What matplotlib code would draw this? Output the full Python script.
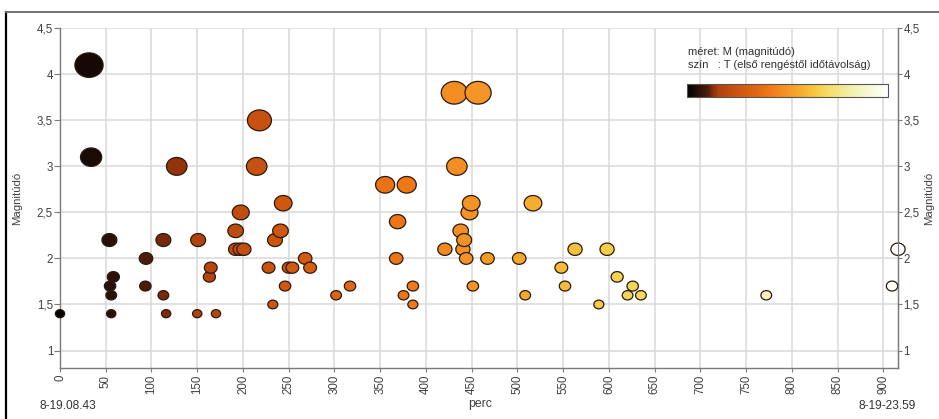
import numpy as np
import matplotlib
matplotlib.use('Agg')
import matplotlib.pyplot as plt
import matplotlib.cm as cm
from matplotlib.colors import LinearSegmentedColormap, Normalize
from matplotlib.path import Path
from matplotlib.ticker import FuncFormatter, FixedLocator
from matplotlib.lines import Line2D

plt.rcParams['font.family'] = ['Liberation Sans', 'DejaVu Sans']

# ---- data (minutes after first quake, magnitude) ----
minutes = [0, 31.7, 34, 54, 54.7, 56, 56, 58.3, 93.3, 94, 113, 113, 116, 127.6,
           150, 151, 163.3, 164.8, 170.5, 192, 192, 197, 197.6, 201, 215, 218,
           228, 232.6, 235, 241, 244, 246, 250, 254, 268, 273.4, 301.8, 317,
           355.4, 367.5, 369, 375.5, 379, 385.7, 385.7, 420.7, 431, 433.8, 438,
           440.4, 441.8, 444, 447.6, 449.5, 451.3, 457, 467.3, 502, 508.5, 517,
           548, 552, 563, 589, 598, 609, 620.4, 626, 635, 772, 909.5, 916]
magnitude = [1.4, 4.1, 3.1, 2.2, 1.7, 1.6, 1.4, 1.8, 1.7, 2.0, 2.2, 1.6, 1.4, 3.0,
             1.4, 2.2, 1.8, 1.9, 1.4, 2.3, 2.1, 2.1, 2.5, 2.1, 3.0, 3.5,
             1.9, 1.5, 2.2, 2.3, 2.6, 1.7, 1.9, 1.9, 2.0, 1.9, 1.6, 1.7,
             2.8, 2.0, 2.4, 1.6, 2.8, 1.7, 1.5, 2.1, 3.8, 3.0, 2.3,
             2.1, 2.2, 2.0, 2.5, 2.6, 1.7, 3.8, 2.0, 2.0, 1.6, 2.6,
             1.9, 1.7, 2.1, 1.5, 2.1, 1.8, 1.6, 1.7, 1.6, 1.6, 1.7, 2.1]
total_minutes = 916
x_ticks = list(range(0, 901, 50))
y_ticks = [1, 1.5, 2, 2.5, 3, 3.5, 4, 4.5]
start_label = '8-19.08.43'
end_label = '8-19-23.59'
x_label = 'perc'
y_label = 'Magnitúdó'
legend_lines = ['méret: M (magnitúdó)', 'szín   : T (első rengéstől időtávolság)']

# ---- colormap ----
cmap = LinearSegmentedColormap.from_list('quake', [
    (0.00, '#000000'), (0.04, '#1c0c06'), (0.10, '#4a1a0a'), (0.13, '#8a2e0c'),
    (0.16, '#b0420e'), (0.25, '#cc5410'), (0.35, '#e06812'), (0.42, '#f07a18'),
    (0.48, '#f39024'), (0.55, '#f5a82a'), (0.65, '#f6cc44'), (0.72, '#f5e070'),
    (0.84, '#f2f2b8'), (1.00, '#ffffff')])
norm = Normalize(0, total_minutes)

W, H = 939, 419
fig = plt.figure(figsize=(W / 100, H / 100), dpi=100)
ax = fig.add_axes([60 / W, 1 - 368 / H, 838 / W, 339.7 / H])

# ellipse marker (slightly wider than tall)
th = np.linspace(0, 2 * np.pi, 72)
ell = Path(np.column_stack([1.15 * np.cos(th), np.sin(th)]), closed=True)

mag = np.array(magnitude)
sizes = ((7.0 * mag - 0.5) * 0.72) ** 2
ax.scatter(minutes, magnitude, s=sizes, c=minutes, cmap=cmap, norm=norm,
           marker=ell, edgecolors='#2a1a0e', linewidths=0.9, zorder=3, clip_on=False)

ax.set_xlim(0, total_minutes)
ax.set_ylim(0.81, 4.5)
ax.xaxis.set_major_locator(FixedLocator(x_ticks))
ax.yaxis.set_major_locator(FixedLocator(y_ticks))
fmt = FuncFormatter(lambda v, p: ('%g' % v).replace('.', ','))
ax.yaxis.set_major_formatter(fmt)
ax.grid(True, color='#d8d8d8', lw=1.1, zorder=0)
ax.set_axisbelow(True)
ax.spines['top'].set_visible(False)
for s in ['left', 'bottom', 'right']:
    ax.spines[s].set_color('#7a7a7a')
    ax.spines[s].set_linewidth(1.0)
ax.tick_params(axis='x', labelrotation=90, labelsize=8.3, length=3, pad=2,
               color='#7a7a7a', labelcolor='#404040')
ax.tick_params(axis='y', labelsize=8.3, length=4, pad=1, color='#7a7a7a',
               labelcolor='#404040')
ax.set_ylabel(y_label, fontsize=8.2, color='#404040')
ax.yaxis.set_label_coords((22 - 60) / 838, 0.5)
ax.set_xlabel(x_label, fontsize=8.8, color='#404040', va='center')
ax.xaxis.set_label_coords((480 - 60) / 838, (368 - 404) / 339.7)

ax2 = ax.twinx()
ax2.set_ylim(ax.get_ylim())
ax2.yaxis.set_major_locator(FixedLocator(y_ticks))
ax2.yaxis.set_major_formatter(fmt)
ax2.tick_params(axis='y', labelsize=8.3, length=3, pad=1, color='#7a7a7a',
                labelcolor='#404040')
for s in ['top', 'left', 'bottom']:
    ax2.spines[s].set_visible(False)
ax2.spines['right'].set_color('#7a7a7a')
ax2.set_ylabel(y_label, fontsize=8.2, color='#404040', rotation=90, va='center')
ax2.yaxis.set_label_coords((929 - 60) / 838, 0.5)

# colour bar legend
cax = fig.add_axes([686.7 / W, 1 - 96.7 / H, 201.3 / W, 12.4 / H])
cb = fig.colorbar(cm.ScalarMappable(norm=norm, cmap=cmap), cax=cax, orientation='horizontal')
cb.set_ticks([])
cb.outline.set_linewidth(0.8)
cb.outline.set_edgecolor('#555555')
fig.text(688 / W, 1 - 52 / H, legend_lines[0], fontsize=8.0, color='#303030', va='center')
fig.text(688 / W, 1 - 64.5 / H, legend_lines[1], fontsize=8.0, color='#303030', va='center')

# start / end timestamps
fig.text(40 / W, 1 - 406 / H, start_label, fontsize=8.6, color='#333333', va='center', ha='left')
fig.text(916 / W, 1 - 406 / H, end_label, fontsize=8.6, color='#333333', va='center', ha='right')

# figure frame lines
fig.add_artist(Line2D([6 / W, 6 / W], [0, 1 - 11.7 / H], color='black', lw=1.6,
                      transform=fig.transFigure))
fig.add_artist(Line2D([6 / W, 1], [1 - 11.7 / H, 1 - 11.7 / H], color='#707070', lw=1.4,
                      transform=fig.transFigure))

fig.savefig('out.png', dpi=100)
